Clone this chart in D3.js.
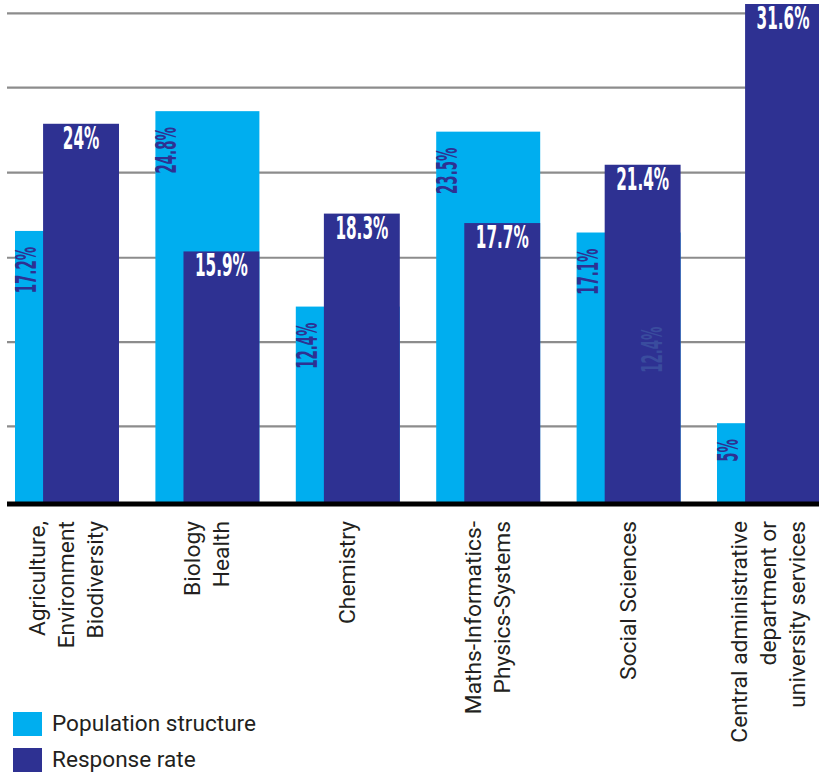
<!DOCTYPE html>
<html>
<head>
<meta charset="utf-8">
<script src="https://cdn.jsdelivr.net/npm/d3@7/dist/d3.min.js"></script>
<style>
  html, body { margin: 0; padding: 0; background: #ffffff; }
  svg { display: block; }
</style>
</head>
<body>
<svg id="chart" width="819" height="776"></svg>
<script>
// Categories (each entry is the list of lines of its axis label)
const categories = [
  ["Agriculture,", "Environment", "Biodiversity"],
  ["Biology", "Health"],
  ["Chemistry"],
  ["Maths-Informatics-", "Physics-Systems"],
  ["Social Sciences"],
  ["Central administrative", "department or", "university services"]
];
// Share of staff per department (%)
const populationStructure = [17.2, 24.8, 12.4, 23.5, 17.1, 5];
// Response rate per department (%)
const responseRate = [24, 15.9, 18.3, 17.7, 21.4, 31.6];
// Horizontal guide lines (%)
const gridValues = [4.8, 10.15, 15.5, 20.9, 26.3, 31.0];
// Leftover faint annotation inside the Social Sciences bar
const faintNotes = [{ category: 4, value: 12.4 }];
// Legend entries
const legendLabels = ["Population structure", "Response rate"];

const colors = { population: "#00aeef", response: "#2e3192" };

const svg = d3.select("#chart");
const keys = categories.map((c, i) => i);

const x = d3.scaleBand()
  .domain(keys)
  .range([15, 821])
  .paddingInner(0.2593)
  .paddingOuter(0);

const y = d3.scaleLinear()
  .domain([0, 31.6])
  .range([502, 4]);

const bw = x.bandwidth();
const darkOffset = bw * 0.27;   // response bar sits over the right part of the band
const darkWidth = bw - darkOffset;

// guide lines
svg.append("g")
  .selectAll("line")
  .data(gridValues)
  .join("line")
  .attr("x1", 7)
  .attr("x2", 819)
  .attr("y1", d => y(d))
  .attr("y2", d => y(d))
  .attr("stroke", "#8c8c8c")
  .attr("stroke-width", 2.2);

// population bars
svg.append("g")
  .selectAll("rect")
  .data(populationStructure)
  .join("rect")
  .attr("x", (d, i) => x(i))
  .attr("y", d => y(d))
  .attr("width", bw)
  .attr("height", d => y(0) - y(d))
  .attr("fill", colors.population);

// response bars
svg.append("g")
  .selectAll("rect")
  .data(responseRate)
  .join("rect")
  .attr("x", (d, i) => x(i) + darkOffset)
  .attr("y", d => y(d))
  .attr("width", darkWidth)
  .attr("height", d => y(0) - y(d))
  .attr("fill", colors.response);

// baseline
svg.append("line")
  .attr("x1", 7).attr("x2", 819)
  .attr("y1", y(0) + 2).attr("y2", y(0) + 2)
  .attr("stroke", "#000000")
  .attr("stroke-width", 5);

const valueFont = "'Liberation Sans Narrow', 'DejaVu Sans Condensed', sans-serif";
const squeeze = 0.53;
const fmt = v => `${v}%`;

// response values, horizontal, white
svg.append("g")
  .selectAll("text")
  .data(responseRate)
  .join("text")
  .attr("transform", (d, i) =>
    `translate(${x(i) + darkOffset + darkWidth / 2},${y(d) + 25}) scale(${squeeze},1)`)
  .attr("text-anchor", "middle")
  .attr("font-family", valueFont)
  .attr("font-weight", "bold")
  .attr("font-size", 32)
  .attr("fill", "#ffffff")
  .text(fmt);

// population values, vertical, navy
svg.append("g")
  .selectAll("text")
  .data(populationStructure)
  .join("text")
  .attr("transform", (d, i) =>
    `translate(${x(i) + 21},${y(d) + 16}) rotate(-90) scale(${squeeze},1)`)
  .attr("text-anchor", "end")
  .attr("font-family", valueFont)
  .attr("font-weight", "bold")
  .attr("font-size", 28)
  .attr("fill", colors.response)
  .text(fmt);

// faint annotation
svg.append("g")
  .selectAll("text")
  .data(faintNotes)
  .join("text")
  .attr("transform", d =>
    `translate(${x(d.category) + darkOffset + 57},${y(d.value) + 20}) rotate(-90) scale(${squeeze},1)`)
  .attr("text-anchor", "end")
  .attr("font-family", valueFont)
  .attr("font-weight", "bold")
  .attr("font-size", 28)
  .attr("fill", "#3a4c9e")
  .text(d => fmt(d.value));

// category labels, rotated, right-aligned toward the axis
const labelFont = "Roboto, 'Noto Sans', sans-serif";
const lineGap = 29;
const catGroups = svg.append("g")
  .selectAll("g")
  .data(categories)
  .join("g");
catGroups.each(function (lines, i) {
  const cx = x(i) + bw / 2;
  d3.select(this)
    .selectAll("text")
    .data(lines)
    .join("text")
    .attr("transform", (t, j) =>
      `translate(${cx + (j - (lines.length - 1) / 2) * lineGap + 7},521) rotate(-90)`)
    .attr("text-anchor", "end")
    .attr("font-family", labelFont)
    .attr("font-size", 22.8)
    .attr("fill", "#231f20")
    .text(t => t);
});

// legend
const legend = svg.append("g")
  .selectAll("g")
  .data(legendLabels)
  .join("g")
  .attr("transform", (d, i) => `translate(13,${712 + i * 36})`);
legend.append("rect")
  .attr("width", 29)
  .attr("height", 24)
  .attr("fill", (d, i) => i === 0 ? colors.population : colors.response);
legend.append("text")
  .attr("x", 39)
  .attr("y", 19)
  .attr("font-family", labelFont)
  .attr("font-size", 22.6)
  .attr("fill", "#231f20")
  .text(d => d);
</script>
</body>
</html>
